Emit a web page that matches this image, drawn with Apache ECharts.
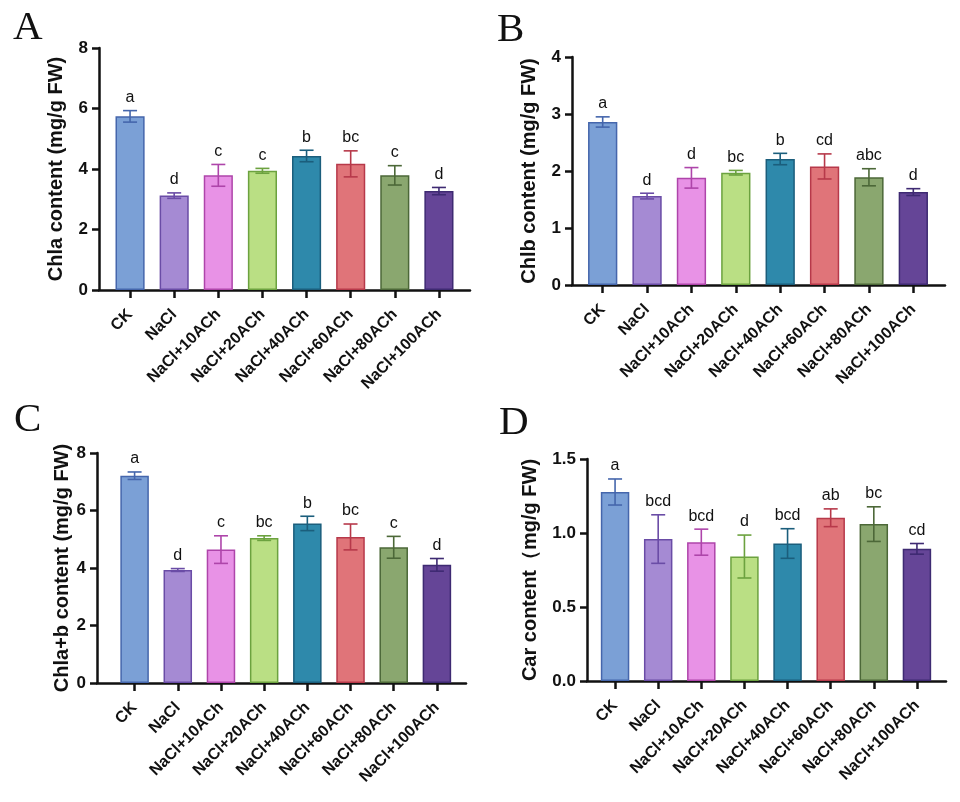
<!DOCTYPE html>
<html>
<head>
<meta charset="utf-8">
<script src="https://cdn.jsdelivr.net/npm/echarts@6/dist/echarts.min.js"></script>
<style>
html,body{margin:0;padding:0;background:#fff}
#main{width:960px;height:802px}
</style>
</head>
<body>
<div id="main"></div>
<script>
// treatments
let groups = ['CK','NaCl','NaCl+10ACh','NaCl+20ACh','NaCl+40ACh','NaCl+60ACh','NaCl+80ACh','NaCl+100ACh']

// A - Chla
let chlaMean = [5.74, 3.12, 3.79, 3.94, 4.43, 4.17, 3.79, 3.27]
let chlaSd   = [0.19, 0.09, 0.36, 0.08, 0.19, 0.43, 0.32, 0.12]
let chlaSig  = ['a','d','c','c','b','bc','c','d']

// B - Chlb
let chlbMean = [2.86, 1.56, 1.88, 1.97, 2.21, 2.08, 1.89, 1.63]
let chlbSd   = [0.09, 0.05, 0.18, 0.04, 0.10, 0.22, 0.15, 0.06]
let chlbSig  = ['a','d','d','bc','b','cd','abc','d']

// C - Chla+b
let chlabMean = [7.21, 3.93, 4.64, 5.04, 5.55, 5.08, 4.72, 4.11]
let chlabSd   = [0.13, 0.05, 0.48, 0.08, 0.25, 0.45, 0.38, 0.22]
let chlabSig  = ['a','d','c','bc','b','bc','c','d']

// D - Car
let carMean = [1.277, 0.959, 0.938, 0.841, 0.929, 1.103, 1.060, 0.893]
let carSd   = [0.088, 0.164, 0.088, 0.145, 0.100, 0.060, 0.117, 0.036]
let carSig  = ['a','bcd','bcd','d','bcd','ab','bc','cd']

let fills   = ['#7BA0D6','#A58AD3','#E892E6','#BADF84','#2E89AB','#E07479','#8AA76F','#654597']
let borders = ['#4566AC','#6A4CA6','#AE45AA','#6CA23F','#1B5E7C','#B7394A','#4C6838','#3E2A72']

let ink = '#111'
let sans = '"Liberation Sans", Arial, sans-serif'

let panels = [
  {tag:'A', tx:13, ty:8, x0:99, x1:470, b0:108, b1:461, top:48, bottom:290, max:8, interval:2, dec:0,
   name:'Chla content (mg/g FW)', nameGap:33, mean:chlaMean, sd:chlaSd, sig:chlaSig},
  {tag:'B', tx:497, ty:10, x0:572, x1:945, b0:580.5, b1:935.5, top:57, bottom:285, max:4, interval:1, dec:0,
   name:'Chlb content (mg/g FW)', nameGap:33, mean:chlbMean, sd:chlbSd, sig:chlbSig},
  {tag:'C', tx:14, ty:400, x0:97, x1:466, b0:113, b1:458.5, top:453, bottom:683, max:8, interval:2, dec:0,
   name:'Chla+b content (mg/g FW)', nameGap:24, mean:chlabMean, sd:chlabSd, sig:chlabSig},
  {tag:'D', tx:499, ty:403, x0:587, x1:946, b0:593.5, b1:938.5, top:459, bottom:681, max:1.5, interval:0.5, dec:1,
   name:'Car content（mg/g FW)', nameGap:47, mean:carMean, sd:carSd, sig:carSig},
]

let grid = [], xAxis = [], yAxis = [], series = [], graphic = []
let line = {color:ink, width:2.5}

panels.forEach((p, i)=>{
  let g0 = i*2, g1 = i*2+1
  let h = p.bottom - p.top
  // outer frame grid carries the y axis and the full x axis line
  grid.push({left:p.x0, top:p.top, width:p.x1-p.x0, height:h})
  // inner grid carries the bars
  grid.push({left:p.b0, top:p.top, width:p.b1-p.b0, height:h})

  xAxis.push({gridIndex:g0, type:'value', min:0, max:1,
    axisLine:{show:true, onZero:false, lineStyle:line},
    axisTick:{show:false}, axisLabel:{show:false}, splitLine:{show:false}})
  xAxis.push({gridIndex:g1, type:'category', data:groups,
    axisLine:{show:false},
    axisTick:{show:true, alignWithLabel:true, length:8, lineStyle:line},
    axisLabel:{interval:0, rotate:45, margin:22, color:ink, fontFamily:sans, fontWeight:'bold', fontSize:16}})

  yAxis.push({gridIndex:g0, type:'value', min:0, max:p.max, interval:p.interval,
    axisLine:{show:true, lineStyle:line},
    axisTick:{show:true, length:7, lineStyle:line},
    axisLabel:{margin:11, color:ink, fontFamily:sans, fontWeight:'bold', fontSize:17,
      formatter:v=>v.toFixed(p.dec)},
    splitLine:{show:false},
    name:p.name, nameLocation:'middle', nameGap:p.nameGap,
    nameTextStyle:{color:ink, fontFamily:sans, fontWeight:'bold', fontSize:20}})
  yAxis.push({gridIndex:g1, type:'value', min:0, max:p.max, show:false})

  series.push({type:'bar', xAxisIndex:g1, yAxisIndex:g1, barWidth:'66%',
    data:p.mean.map((v,k)=>({value:v, itemStyle:{color:fills[k], borderColor:borders[k], borderWidth:1.5}}))})

  series.push({type:'custom', xAxisIndex:g1, yAxisIndex:g1, z:5,
    data:p.mean.map((v,k)=>[k, v, p.sd[k]]),
    renderItem:(params, api)=>{
      let k = api.value(0), m = api.value(1), s = api.value(2)
      let hi = api.coord([k, m+s]), lo = api.coord([k, m-s])
      let w = 7
      let st = {stroke:borders[k], lineWidth:1.6}
      return {type:'group', children:[
        {type:'line', shape:{x1:hi[0], y1:hi[1], x2:lo[0], y2:lo[1]}, style:st},
        {type:'line', shape:{x1:hi[0]-w, y1:hi[1], x2:hi[0]+w, y2:hi[1]}, style:st},
        {type:'line', shape:{x1:lo[0]-w, y1:lo[1], x2:lo[0]+w, y2:lo[1]}, style:st},
        {type:'text', style:{text:p.sig[k], x:hi[0], y:hi[1]-5, align:'center', verticalAlign:'bottom',
          fontFamily:sans, fontSize:16, fill:ink}}
      ]}
    }})

  graphic.push({type:'text', left:p.tx, top:p.ty,
    style:{text:p.tag, fontFamily:'"Liberation Serif", "Times New Roman", serif', fontSize:41, fill:ink}})
})

let myChart = echarts.init(document.getElementById('main'))
myChart.setOption({animation:false, grid, xAxis, yAxis, series, graphic})
</script>
</body>
</html>
